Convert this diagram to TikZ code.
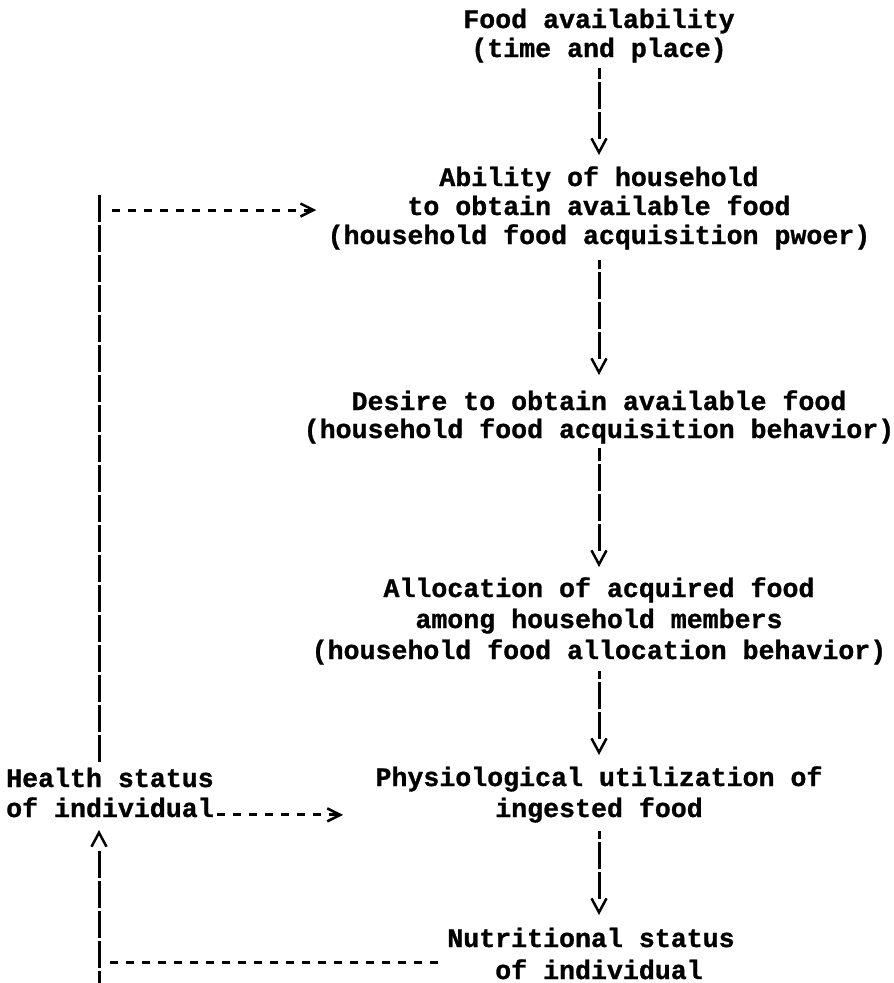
\documentclass[tikz,border=0pt]{standalone}
\usepackage{fontspec}
\newfontfamily\typewriter{Liberation Mono}[BoldFeatures={FakeBold=1}]
\usetikzlibrary{arrows.meta}
\begin{document}
\begin{tikzpicture}[x=1pt,y=1pt,
						every node/.style={anchor=base,inner sep=0pt,
						  font=\typewriter\bfseries\fontsize{26.6}{30}\selectfont}]
						\tikzstyle{bar}=[line width=3pt,dash pattern=on 27pt off 3pt];
						\tikzstyle{flow}=[line width=3pt,dash pattern=on 0pt off 12pt on 27pt off 3pt on 27pt off 3pt on 27pt off 3pt on 27pt off 3pt,
						  {Straight Barb[length=14pt,width=15pt,line width=2.5pt]}-];
						\tikzstyle{dashline}=[line width=3pt,dash pattern=on 8pt off 8pt];
						\tikzstyle{dashflow}=[dashline,-{Straight Barb[length=13pt,width=13pt,line width=2.5pt]}];
						\useasboundingbox (0,0) rectangle (894,-983);
						\node(food1) at (599,-28) {Food availability};
						\node(food2) at (599,-57) {(time and place)};
						\node(abil1) at (599,-186) {Ability of household};
						\node(abil2) at (599,-215) {to obtain available food};
						\node(abil3) at (599,-244) {(household food acquisition pwoer)};
						\node(desire1) at (599,-410) {Desire to obtain available food};
						\node(desire2) at (599,-438) {(household food acquisition behavior)};
						\node(alloc1) at (599,-597) {Allocation of acquired food};
						\node(alloc2) at (599,-628) {among household members};
						\node(alloc3) at (599,-659) {(household food allocation behavior)};
						\node(phys1) at (599,-786) {Physiological utilization of};
						\node(phys2) at (599,-817) {ingested food};
						\node(nutr1) at (591,-947) {Nutritional status};
						\node(nutr2) at (599,-979) {of individual};
						\node[anchor=base west](health1) at (6,-787) {Health status};
						\node[anchor=base west](health2) at (6,-817) {of individual};
						\coordinate(tl) at (99,-210);
						\coordinate(bl) at (99,-962);
						\coordinate(foot) at (99,-983);
						% main column, drawn from the arrow head back up
						\draw[flow,shorten <=31pt,shorten >=11pt] (abil1.base) -- (food2.base);
						\draw[flow,shorten <=35pt,shorten >=16pt] (desire1.base) -- (abil3.base);
						\draw[flow,shorten <=30pt,shorten >=10pt] (alloc1.base) -- (desire2.base);
						\draw[flow,shorten <=31pt,shorten >=12pt] (phys1.base) -- (alloc3.base);
						\draw[flow,shorten <=32pt,shorten >=14pt] (phys2.base |- nutr1.base) -- (phys2.base);
						% feedback loops
						\draw[bar,shorten >=25pt] ([yshift=15pt]tl) -- (tl |- health1.base);
						\draw[dashflow,shorten <=13pt,shorten >=91pt] (tl) -- (tl -| abil2.west);
						\draw[dashflow,shorten <=3pt,shorten >=152pt] (health2.mid east) -- (phys2.mid west);
						\draw[dashline,shorten <=11pt,shorten >=55pt] (bl) -- (bl -| nutr2.west);
						\draw[flow,dash pattern=on 0pt off 17pt on 27pt off 3pt on 27pt off 3pt on 27pt off 3pt on 27pt off 3pt on 27pt off 3pt,
						  shorten <=13pt] (foot |- health2.base) -- (foot);
					\end{tikzpicture}
\end{document}
